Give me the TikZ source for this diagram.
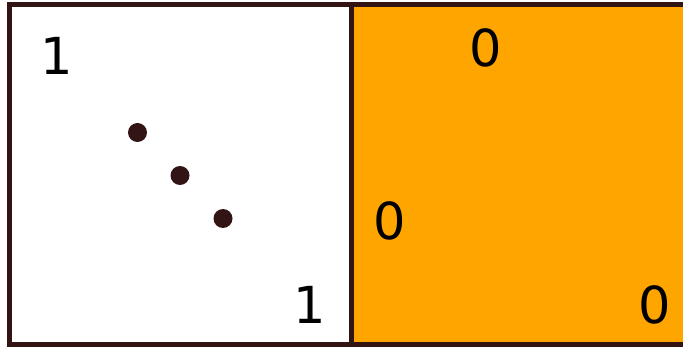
\documentclass[tikz,border=0pt]{standalone}
\usepackage{fontspec}
\setmainfont{DejaVu Sans}
\definecolor{edge}{RGB}{50,20,20}
\definecolor{fillorange}{RGB}{255,165,0}
\begin{document}
\begin{tikzpicture}[x=1pt,y=-1pt,
  cell/.style={draw=edge,line width=5pt,inner sep=0pt,outer sep=0pt},
  digit/.style={inner sep=0pt,font=\fontsize{51}{51}\selectfont},
  dotnode/.style={circle,fill=edge,inner sep=0pt,minimum size=19pt}]
\useasboundingbox (0,0) rectangle (683,347);
\begin{scope}
\clip (0,0) rectangle (683,347);
\node[cell,fill=white,minimum width=341.5pt,minimum height=340.5pt,anchor=north west] (L) at (9.5,4.5) {};
\node[cell,fill=fillorange,minimum width=360pt,minimum height=340.5pt,anchor=north west] (R) at (351,4.5) {};
\draw[edge,line width=5pt] (L.north west) rectangle (L.south east);
\end{scope}
\node[digit] (a) at (56.5,55.5) {1};
\node[digit] (b) at (310,305) {1};
\node[digit] (c) at (485.5,47.5) {0};
\node[digit] (d) at (389.5,221) {0};
\node[digit] (e) at (655,305) {0};
\node[dotnode] (d1) at (137.5,132.5) {};
\node[dotnode] (d2) at (180,175.5) {};
\node[dotnode] (d3) at (223,218.5) {};
\end{tikzpicture}
\end{document}
